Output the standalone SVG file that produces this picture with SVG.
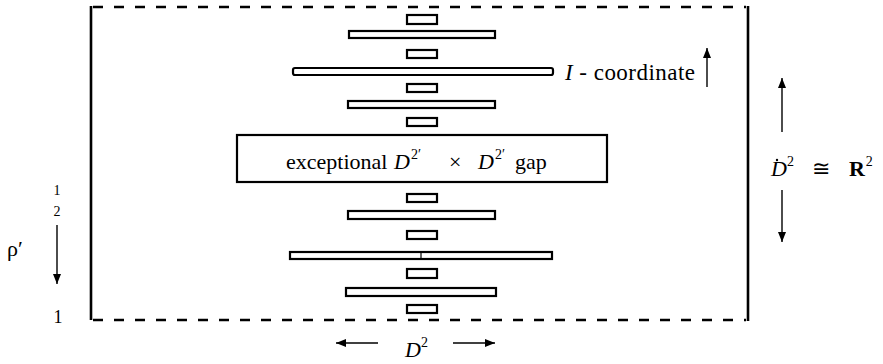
<svg xmlns="http://www.w3.org/2000/svg" width="883" height="364" viewBox="0 0 883 364">
<style>
.t{font-family:'Liberation Serif','DejaVu Serif',serif;fill:#000}
.i{font-style:italic}
.b{font-weight:bold}
.bar{fill:#fff;stroke:#000;stroke-width:2.2}
.frame{stroke:#000;stroke-width:2.6;fill:none}
.dash{stroke-dasharray:10 11}
.ar{stroke:#000;stroke-width:1.4;fill:none;marker-end:url(#ah)}
</style>
<defs>
<marker id="ah" viewBox="0 0 10 10" refX="10" refY="5" markerWidth="10" markerHeight="10" markerUnits="userSpaceOnUse" orient="auto">
<path d="M0,1 L10,5 L0,9 Z" fill="#000"/>
</marker>
</defs>
<rect width="883" height="364" fill="#fff"/>
<g id="frame">
<line class="frame" x1="91" y1="6" x2="91" y2="320"/>
<line class="frame" x1="748" y1="6" x2="748" y2="321"/>
<line class="frame dash" x1="93" y1="7" x2="746" y2="7"/>
<line class="frame dash" x1="93" y1="320" x2="746" y2="320"/>
</g>
<g id="bars-top">
<rect class="bar" x="407" y="15" width="30" height="9"/>
<rect class="bar" x="349" y="31" width="146" height="7"/>
<rect class="bar" x="407" y="50" width="30" height="8"/>
<rect class="bar" x="293" y="68" width="260" height="7" rx="2"/>
<rect class="bar" x="407" y="84" width="30" height="8"/>
<rect class="bar" x="348" y="101" width="147" height="7"/>
<rect class="bar" x="407" y="118" width="30" height="8"/>
</g>
<g id="gap">
<rect class="bar" x="237" y="135" width="370" height="47"/>
<text class="t" font-family="Liberation Serif, DejaVu Serif, serif" y="169" font-size="22"><tspan x="286">exceptional</tspan><tspan x="394" class="i">D</tspan><tspan dx="1" y="159" font-size="14">2′</tspan><tspan x="449" y="169">×</tspan><tspan x="478" class="i">D</tspan><tspan dx="1" y="159" font-size="14">2′</tspan><tspan x="515" y="169">gap</tspan></text>
</g>
<g id="bars-bottom">
<rect class="bar" x="407" y="194" width="30" height="8"/>
<rect class="bar" x="348" y="211" width="147" height="8"/>
<rect class="bar" x="407" y="231" width="30" height="8"/>
<rect class="bar" x="290" y="252" width="262" height="7"/>
<line x1="421" y1="252" x2="421" y2="259" stroke="#000" stroke-width="1.2"/>
<rect class="bar" x="407" y="269" width="30" height="9"/>
<rect class="bar" x="346" y="288" width="150" height="8"/>
<rect class="bar" x="407" y="305" width="30" height="8"/>
</g>
<g id="i-coordinate">
<text class="t" font-family="Liberation Serif, DejaVu Serif, serif" x="565" y="80" font-size="23" textLength="130"><tspan class="i">I</tspan> - coordinate</text>
</g>
<g id="right-label">
<text class="t" font-family="Liberation Serif, DejaVu Serif, serif" x="771" y="176" font-size="22"><tspan class="i">D</tspan><tspan font-size="14" dy="-10">2</tspan><tspan dy="10" dx="18">≅</tspan><tspan class="b" dx="19">R</tspan><tspan font-size="14" dy="-10" dx="1">2</tspan></text>
<circle cx="777" cy="160" r="1.2" fill="#000"/>
</g>
<g id="left-label">
<text class="t" font-family="Liberation Serif, DejaVu Serif, serif" x="57" y="195" font-size="14" text-anchor="middle">1</text>
<text class="t" font-family="Liberation Serif, DejaVu Serif, serif" x="57" y="216" font-size="14" text-anchor="middle">2</text>
<text class="t" font-family="Liberation Serif, DejaVu Serif, serif" x="7" y="256" font-size="22">ρ′</text>
<text class="t" font-family="Liberation Serif, DejaVu Serif, serif" x="58" y="323" font-size="18" text-anchor="middle">1</text>
</g>
<g id="bottom-label">
<text class="t" font-family="Liberation Serif, DejaVu Serif, serif" x="405" y="357" font-size="22"><tspan class="i">D</tspan><tspan font-size="14" dy="-10">2</tspan></text>
</g>
<g id="connectors">
<line class="ar" x1="707" y1="87" x2="707" y2="48"/>
<line class="ar" x1="782" y1="132" x2="782" y2="78"/>
<line class="ar" x1="782" y1="190" x2="782" y2="242"/>
<line class="ar" x1="57" y1="225" x2="57" y2="284"/>
<line class="ar" x1="378" y1="343" x2="336" y2="343"/>
<line class="ar" x1="453" y1="343" x2="495" y2="343"/>
</g>
</svg>
